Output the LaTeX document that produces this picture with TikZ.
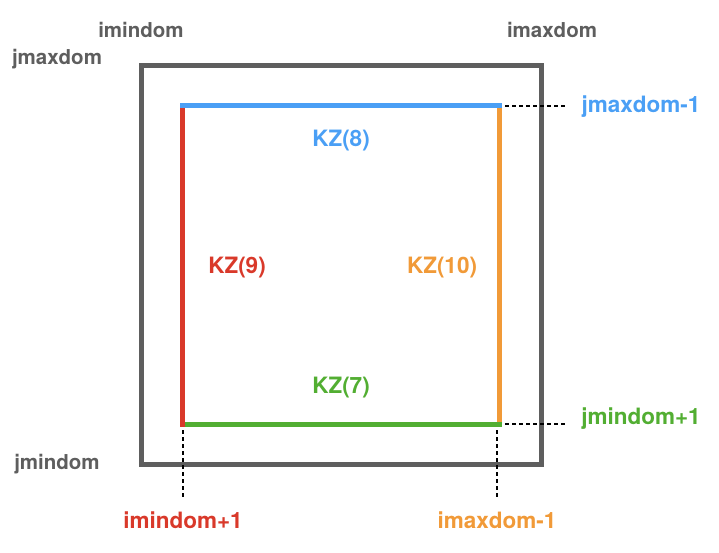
\documentclass[tikz,border=0pt]{standalone}
\usepackage{fontspec}
\setmainfont{TeX Gyre Heros}
\definecolor{boxgray}{HTML}{5E5E5E}
\definecolor{kzblue}{HTML}{4A9FF5}
\definecolor{kzred}{HTML}{D9392A}
\definecolor{kzorange}{HTML}{F19A38}
\definecolor{kzgreen}{HTML}{52AE32}
\begin{document}
\begin{tikzpicture}[x=1pt,y=-1pt,
  lbl/.style={font=\bfseries\fontsize{20.5}{24}\selectfont, text=boxgray, inner sep=0pt, anchor=base},
  clbl/.style={font=\bfseries\fontsize{22.5}{26}\selectfont, inner sep=0pt, anchor=base},
  kzedge/.style={line width=5pt, line cap=rect},
  guide/.style={black, line width=2pt, dash pattern=on 4pt off 3pt}]
\useasboundingbox (0,0) rectangle (719,552);
\fill[white] (0,0) rectangle (719,552);
% outer domain
\coordinate (dTL) at (141,65);
\coordinate (dBR) at (541,464);
\draw[boxgray, line width=5pt] (dTL) rectangle (dBR);
% inner corners
\coordinate (cTL) at (182,105);
\coordinate (cTR) at (499,105);
\coordinate (cBR) at (499,424);
\coordinate (cBL) at (182,424);
\draw[kzedge, kzorange] (cTR) -- (cBR);
\draw[kzedge, kzgreen] (cBL) -- (cBR);
\draw[kzedge, kzred] (cTL) -- (cBL);
\draw[kzedge, kzblue] (cTL) -- (cTR);
% guide ends
\coordinate (gT1) at (505,106);
\coordinate (gT2) at (566,106);
\coordinate (gB1) at (505,424);
\coordinate (gB2) at (566,424);
\coordinate (gL1) at (183,430);
\coordinate (gL2) at (183,498);
\coordinate (gR1) at (497,430);
\coordinate (gR2) at (497,498);
\draw[guide] (gT1) -- (gT2);
\draw[guide] (gB1) -- (gB2);
\draw[guide] (gL1) -- (gL2);
\draw[guide] (gR1) -- (gR2);
% gray labels
\node[lbl] (imin) at (141,37) {imindom};
\node[lbl] (imax) at (552,37) {imaxdom};
\node[lbl] (jmax) at (57,64) {jmaxdom};
\node[lbl] (jmin) at (57,469) {jmindom};
% coloured labels
\node[clbl, text=kzblue] (jmaxm) at (641,112) {jmaxdom-1};
\node[clbl, text=kzgreen] (jminp) at (641,424) {jmindom+1};
\node[clbl, text=kzred] (iminp) at (183,528) {imindom+1};
\node[clbl, text=kzorange] (imaxm) at (497,528) {imaxdom-1};
\node[clbl, text=kzblue] (kz8) at (341,146) {KZ(8)};
\node[clbl, text=kzred] (kz9) at (237,273) {KZ(9)};
\node[clbl, text=kzorange] (kz10) at (442,273) {KZ(10)};
\node[clbl, text=kzgreen] (kz7) at (341,393) {KZ(7)};
\end{tikzpicture}
\end{document}
